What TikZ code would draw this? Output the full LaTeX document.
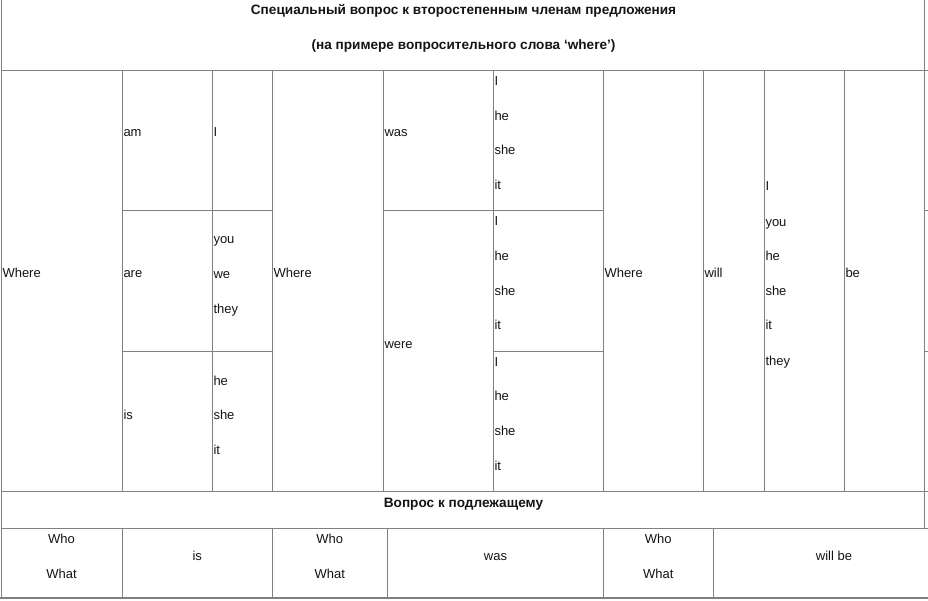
\documentclass[tikz,border=0pt]{standalone}
\usepackage{fontspec}
\setmainfont{Liberation Sans}
\definecolor{gridgray}{RGB}{128,128,128}
\definecolor{txt}{RGB}{20,20,20}
\begin{document}
\begin{tikzpicture}[x=1pt,y=-1pt,
  grid/.style={draw=gridgray,line width=1pt},
  cell/.style={inner sep=0pt,outer sep=0pt,anchor=base west,text=txt,font=\fontsize{13}{15}\selectfont},
  ctr/.style={inner sep=0pt,outer sep=0pt,anchor=base,text=txt,font=\fontsize{13}{15}\selectfont},
  head/.style={inner sep=0pt,outer sep=0pt,anchor=base,text=txt,font=\fontsize{13.6}{15}\selectfont\bfseries}]
\useasboundingbox (0,0) rectangle (928,601);
% horizontal rules
\draw[grid] (0.5,70.5) -- (928,70.5);
\draw[grid] (122.3,211) -- (272.3,211);
\draw[grid] (383.3,211) -- (603.3,211);
\draw[grid] (924.5,211) -- (928,211);
\draw[grid] (122.3,351) -- (272.3,351);
\draw[grid] (493.3,351) -- (603.3,351);
\draw[grid] (924.5,351) -- (928,351);
\draw[grid] (0.5,491.8) -- (928,491.8);
\draw[grid] (0.5,528.3) -- (928,528.3);
\draw[draw=gridgray,line width=2pt] (0,598.3) -- (928,598.3);
% outer verticals
\draw[grid] (1,0) -- (1,597.3);
\draw[grid] (924.5,0) -- (924.5,528.3);
% main row verticals
\foreach \x in {122.3,212.3,272.3,383.3,493.3,603.3,703.5,764.3,844.3}
  \draw[grid] (\x,70.5) -- (\x,491.8);
% bottom row verticals
\foreach \x in {122.3,272.3,387.3,603.3,713.3}
  \draw[grid] (\x,528.3) -- (\x,597.3);
% header
\node[head] (title1) at (463.5,14.5) {Специальный вопрос к второстепенным членам предложения};
\node[head] (title2) at (463.5,50) {(на примере вопросительного слова ‘where’)};
% group 1
\node[cell] (w1) at (2.5,278) {Where};
\node[cell] (am) at (123.5,137) {am};
\node[cell] (i1) at (213.5,137) {I};
\node[cell] (are) at (123.5,278) {are};
\node[cell] (you1) at (213.5,244) {you};
\node[cell] (we1) at (213.5,278.5) {we};
\node[cell] (they1) at (213.5,313) {they};
\node[cell] (is1) at (123.5,419) {is};
\node[cell] (he1) at (213.5,385) {he};
\node[cell] (she1) at (213.5,419.5) {she};
\node[cell] (it1) at (213.5,454) {it};
% group 2
\node[cell] (w2) at (273.5,278) {Where};
\node[cell] (was) at (384.5,137) {was};
\node[cell] (were) at (384.5,348) {were};
\node[cell] (i2a) at (494.5,86) {I};
\node[cell] (he2a) at (494.5,120.5) {he};
\node[cell] (she2a) at (494.5,155) {she};
\node[cell] (it2a) at (494.5,190) {it};
\node[cell] (i2b) at (494.5,226) {I};
\node[cell] (he2b) at (494.5,260.5) {he};
\node[cell] (she2b) at (494.5,295) {she};
\node[cell] (it2b) at (494.5,330) {it};
\node[cell] (i2c) at (494.5,366) {I};
\node[cell] (he2c) at (494.5,400.5) {he};
\node[cell] (she2c) at (494.5,435) {she};
\node[cell] (it2c) at (494.5,470) {it};
% group 3
\node[cell] (w3) at (604.5,278) {Where};
\node[cell] (will) at (704.5,278) {will};
\node[cell] (i3) at (765.5,191) {I};
\node[cell] (you3) at (765.5,226.5) {you};
\node[cell] (he3) at (765.5,261) {he};
\node[cell] (she3) at (765.5,295.5) {she};
\node[cell] (it3) at (765.5,330) {it};
\node[cell] (they3) at (765.5,365) {they};
\node[cell] (be) at (845.5,278) {be};
% subject question
\node[head] (subj) at (463.5,507) {Вопрос к подлежащему};
\node[ctr] (who1) at (61.5,543) {Who};
\node[ctr] (what1) at (61.5,578) {What};
\node[ctr] (is2) at (197.3,560.5) {is};
\node[ctr] (who2) at (329.8,543) {Who};
\node[ctr] (what2) at (329.8,578) {What};
\node[ctr] (was2) at (495.5,560.5) {was};
\node[ctr] (who3) at (658.3,543) {Who};
\node[ctr] (what3) at (658.3,578) {What};
\node[ctr] (willbe) at (834,560.5) {will be};
\end{tikzpicture}
\end{document}
